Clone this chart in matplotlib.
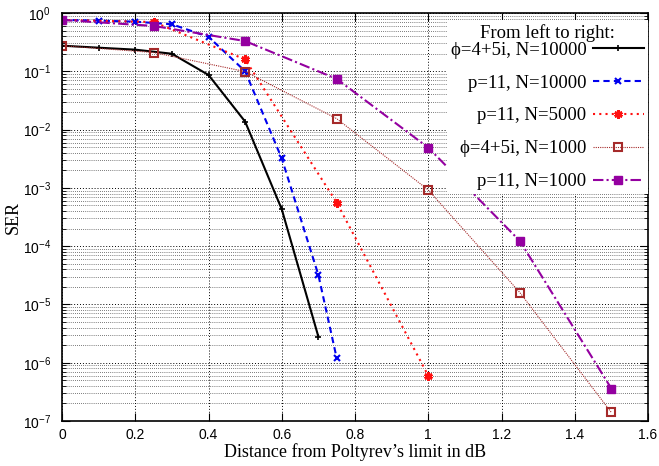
import matplotlib
matplotlib.use("Agg")
import matplotlib.pyplot as plt
import numpy as np
from matplotlib.ticker import LogLocator, NullFormatter, FixedLocator

plt.rcParams['mathtext.default'] = 'regular'
plt.rcParams['font.family'] = ['Liberation Sans', 'DejaVu Sans']

# datos
x_phi10000 = [0, 0.1, 0.2, 0.3, 0.4, 0.5, 0.6, 0.7]
ser_phi10000 = [0.275, 0.254, 0.235, 0.2, 0.0865, 0.0137, 4.3e-4, 2.8e-6]

x_p10000 = [0, 0.1, 0.2, 0.3, 0.4, 0.5, 0.6, 0.7, 0.75]
ser_p10000 = [0.76, 0.74, 0.71, 0.64, 0.39, 0.10, 3.2e-3, 3.2e-5, 1.2e-6]

x_p5000 = [0, 0.25, 0.5, 0.75, 1.0]
ser_p5000 = [0.76, 0.70, 0.16, 5.6e-4, 6e-7]

x_phi1000 = [0, 0.25, 0.5, 0.75, 1.0, 1.25, 1.5]
ser_phi1000 = [0.275, 0.21, 0.099, 0.0154, 9.2e-4, 1.6e-5, 1.4e-7]

x_p1000 = [0, 0.25, 0.5, 0.75, 1.0, 1.25, 1.5]
ser_p1000 = [0.76, 0.60, 0.33, 0.074, 4.9e-3, 1.23e-4, 3.6e-7]

etiquetas = ["\u03d5=4+5i, N=10000", "p=11, N=10000", "p=11, N=5000",
             "\u03d5=4+5i, N=1000", "p=11, N=1000"]

fig = plt.figure(figsize=(6.59, 4.66), dpi=100)
ax = fig.add_axes([62 / 659, 45 / 466, 586 / 659, 408 / 466])

ax.plot(x_phi10000, ser_phi10000, color='black', lw=1.5, ls='-',
        marker='+', ms=5, mew=1.2, label=etiquetas[0])
ax.plot(x_p10000, ser_p10000, color='#0000ee', lw=1.5, ls=(0, (3, 2)),
        marker='x', ms=5, mew=1.5, label=etiquetas[1])
ax.plot(x_p5000, ser_p5000, color='#ff1010', lw=1.5, ls=(0, (1, 2)),
        marker=(6, 2, 0), ms=6, mew=2, label=etiquetas[2])
ax.plot(x_phi1000, ser_phi1000, color='#a52a2a', lw=0.8, ls=(0, (1, 1)),
        marker='s', ms=6, mfc='none', mew=1.5, label=etiquetas[3])
ax.plot(x_p1000, ser_p1000, color='#9400a0', lw=1.5, ls=(0, (5, 1.5, 1, 1.5)),
        marker='s', ms=6, label=etiquetas[4])

ax.set_yscale('log')
ax.set_xlim(0, 1.6)
ax.set_ylim(1e-7, 1)
ax.xaxis.set_major_locator(FixedLocator(np.arange(0, 1.61, 0.2)))
ax.set_xticklabels(['0', '0.2', '0.4', '0.6', '0.8', '1', '1.2', '1.4', '1.6'])
ax.yaxis.set_major_locator(LogLocator(base=10, numticks=10))
ax.yaxis.set_minor_locator(LogLocator(base=10, subs=np.arange(2, 10), numticks=20))
ax.yaxis.set_minor_formatter(NullFormatter())

ax.grid(True, which='major', color='black', ls=(0, (1, 2)), lw=0.7)
ax.grid(True, which='minor', axis='y', color='black', ls=(0, (1, 2)), lw=0.5)
ax.tick_params(which='both', direction='in', top=True, right=True, labelsize=10)
ax.tick_params(which='major', length=6)
ax.tick_params(which='minor', length=3)
ax.tick_params(axis='y', which='major', pad=8)
ax.tick_params(axis='x', which='major', pad=5)
for s in ax.spines.values():
    s.set_linewidth(1.2)

serif = ['Liberation Serif', 'DejaVu Serif']
ax.set_xlabel("Distance from Poltyrev\u2019s limit in dB", family=serif, fontsize=13, labelpad=1)
ax.set_ylabel("SER", family=serif, fontsize=13)
ax.yaxis.set_label_coords(-0.068, 0.5)

leg = ax.legend(loc='upper right', bbox_to_anchor=(1.004, 0.99),
                title="From left to right:", markerfirst=False,
                frameon=True, fancybox=False, framealpha=1, edgecolor='none',
                prop={'family': serif, 'size': 13.5}, handlelength=2.7,
                labelspacing=0.84, borderaxespad=0.15, borderpad=0.2,
                handletextpad=0.35)
leg.get_title().set_family(serif)
leg.get_title().set_fontsize(13.5)
# menos espacio entre el titulo y las entradas
leg._legend_box.sep = 0

fig.savefig("out.png", dpi=100)
